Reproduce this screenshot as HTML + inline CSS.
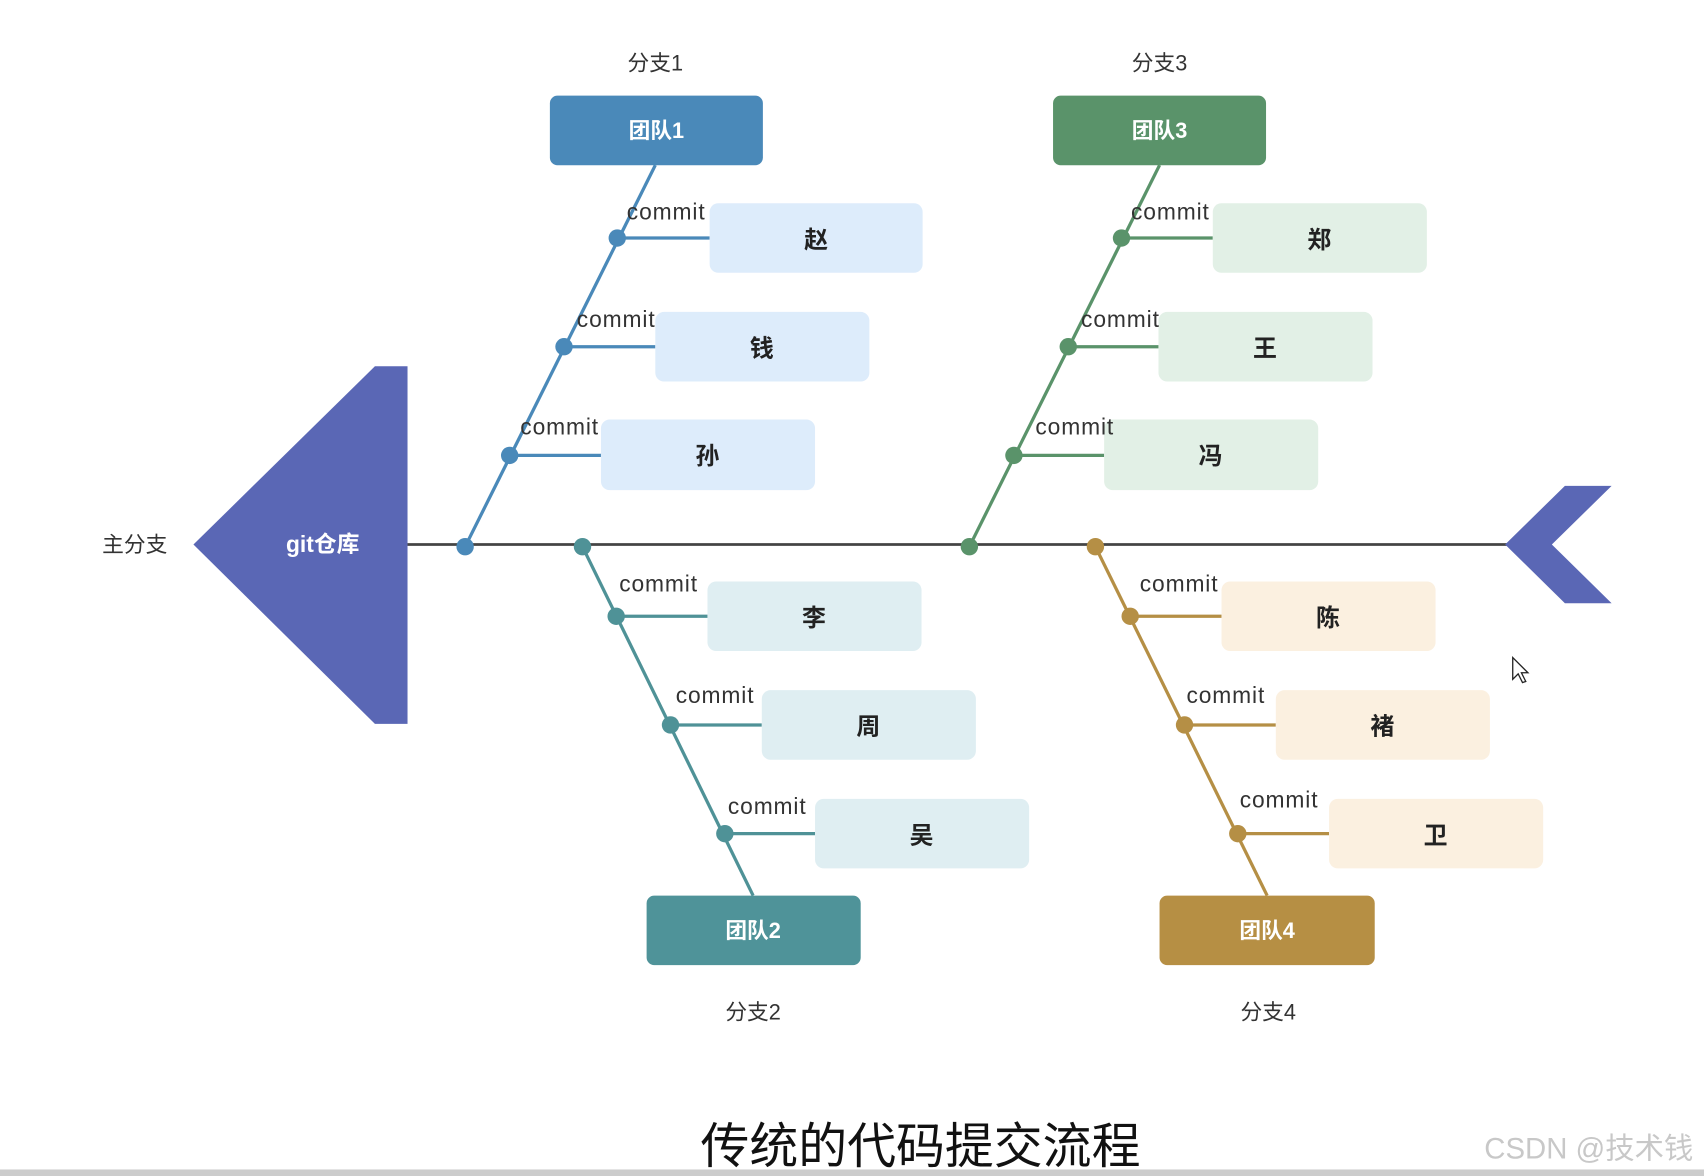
<!DOCTYPE html>
<html><head><meta charset="utf-8"><style>
html,body{margin:0;padding:0;background:#fff;}
svg{display:block;}
text{font-family:"Liberation Sans","Noto Sans CJK SC",sans-serif;}
</style></head><body>
<svg width="1704" height="1176" viewBox="0 0 1568 1082" preserveAspectRatio="none" xmlns="http://www.w3.org/2000/svg">
<rect width="1568" height="1082" fill="#fff"/>
<line x1="375" y1="501" x2="1390" y2="501" stroke="#444" stroke-width="2.5"/>
<polygon points="178,501 345,337 375,337 375,666 345,666" fill="#5a67b5"/>
<text x="297" y="508" font-size="21" font-weight="bold" fill="#fff" text-anchor="middle">git仓库</text>
<text x="124" y="508" font-size="20" fill="#333" text-anchor="middle">主分支</text>
<polygon points="1385,501 1440,447 1483,447 1428,501 1483,555 1440,555" fill="#5a67b5"/>

<g font-size="20" fill="#333" text-anchor="middle">
<text x="603" y="65">分支1</text><text x="1067" y="65">分支3</text>
<text x="693" y="938">分支2</text><text x="1167" y="938">分支4</text>
</g>

<g stroke="#4a89b9" stroke-width="3">
<line x1="603" y1="152" x2="428" y2="503"/>
<line x1="568" y1="219" x2="653" y2="219"/><line x1="519" y1="319" x2="603" y2="319"/><line x1="469" y1="419" x2="553" y2="419"/>
</g>
<g fill="#4a89b9"><circle cx="568" cy="219" r="8"/><circle cx="519" cy="319" r="8"/><circle cx="469" cy="419" r="8"/><circle cx="428" cy="503" r="8"/></g>
<g fill="#ddecfb"><rect x="653" y="187" width="196" height="64" rx="8"/><rect x="603" y="287" width="197" height="64" rx="8"/><rect x="553" y="386" width="197" height="65" rx="8"/></g>
<rect x="506" y="88" width="196" height="64" rx="7" fill="#4a89b9"/>

<g stroke="#5a936a" stroke-width="3">
<line x1="1067" y1="152" x2="892" y2="503"/>
<line x1="1032" y1="219" x2="1116" y2="219"/><line x1="983" y1="319" x2="1066" y2="319"/><line x1="933" y1="419" x2="1016" y2="419"/>
</g>
<g fill="#5a936a"><circle cx="1032" cy="219" r="8"/><circle cx="983" cy="319" r="8"/><circle cx="933" cy="419" r="8"/><circle cx="892" cy="503" r="8"/></g>
<g fill="#e2f0e6"><rect x="1116" y="187" width="197" height="64" rx="8"/><rect x="1066" y="287" width="197" height="64" rx="8"/><rect x="1016" y="386" width="197" height="65" rx="8"/></g>
<rect x="969" y="88" width="196" height="64" rx="7" fill="#5a936a"/>

<g stroke="#4f9297" stroke-width="3">
<line x1="536" y1="503" x2="693" y2="824"/>
<line x1="567" y1="567" x2="651" y2="567"/><line x1="617" y1="667" x2="701" y2="667"/><line x1="667" y1="767" x2="750" y2="767"/>
</g>
<g fill="#4f9297"><circle cx="536" cy="503" r="8"/><circle cx="567" cy="567" r="8"/><circle cx="617" cy="667" r="8"/><circle cx="667" cy="767" r="8"/></g>
<g fill="#dfeef2"><rect x="651" y="535" width="197" height="64" rx="8"/><rect x="701" y="635" width="197" height="64" rx="8"/><rect x="750" y="735" width="197" height="64" rx="8"/></g>
<rect x="595" y="824" width="197" height="64" rx="7" fill="#4f9399"/>

<g stroke="#b58f45" stroke-width="3">
<line x1="1008" y1="503" x2="1166" y2="824"/>
<line x1="1040" y1="567" x2="1124" y2="567"/><line x1="1090" y1="667" x2="1174" y2="667"/><line x1="1139" y1="767" x2="1223" y2="767"/>
</g>
<g fill="#b58f45"><circle cx="1008" cy="503" r="8"/><circle cx="1040" cy="567" r="8"/><circle cx="1090" cy="667" r="8"/><circle cx="1139" cy="767" r="8"/></g>
<g fill="#fbf0e0"><rect x="1124" y="535" width="197" height="64" rx="8"/><rect x="1174" y="635" width="197" height="64" rx="8"/><rect x="1223" y="735" width="197" height="64" rx="8"/></g>
<rect x="1067" y="824" width="198" height="64" rx="7" fill="#b68f44"/>

<g font-size="20" font-weight="bold" fill="#fff" text-anchor="middle">
<text x="604" y="127">团队1</text><text x="1067" y="127">团队3</text>
<text x="693" y="863">团队2</text><text x="1166" y="863">团队4</text>
</g>
<g font-size="22" font-weight="bold" fill="#222" text-anchor="middle">
<text x="751" y="228">赵</text><text x="701" y="328">钱</text><text x="651" y="427">孙</text>
<text x="1214" y="228">郑</text><text x="1164" y="328">王</text><text x="1114" y="427">冯</text>
<text x="749" y="576">李</text><text x="799" y="676">周</text><text x="848" y="776">吴</text>
<text x="1222" y="576">陈</text><text x="1272" y="676">褚</text><text x="1321" y="776">卫</text>
</g>
<g font-size="21" fill="#333" text-anchor="middle" letter-spacing="0.8">
<text x="613" y="202">commit</text><text x="567" y="301">commit</text><text x="515" y="400">commit</text>
<text x="1077" y="202">commit</text><text x="1031" y="301">commit</text><text x="989" y="400">commit</text>
<text x="606" y="544">commit</text><text x="658" y="647">commit</text><text x="706" y="749">commit</text>
<text x="1085" y="544">commit</text><text x="1128" y="647">commit</text><text x="1177" y="743">commit</text>
</g>
<polygon points="1392,605 1392,625 1397,620 1401,628 1404,627 1400,619 1406,619" fill="#fff" stroke="#222" stroke-width="1.2"/>

<text x="847" y="1070" font-size="45" fill="#111" text-anchor="middle">传统的代码提交流程</text>
<text x="1462" y="1066" font-size="27" fill="#c8c8c8" text-anchor="middle">CSDN @技术钱</text>
<rect x="0" y="1076" width="1568" height="6" fill="#ccc"/>
</svg>
</body></html>
